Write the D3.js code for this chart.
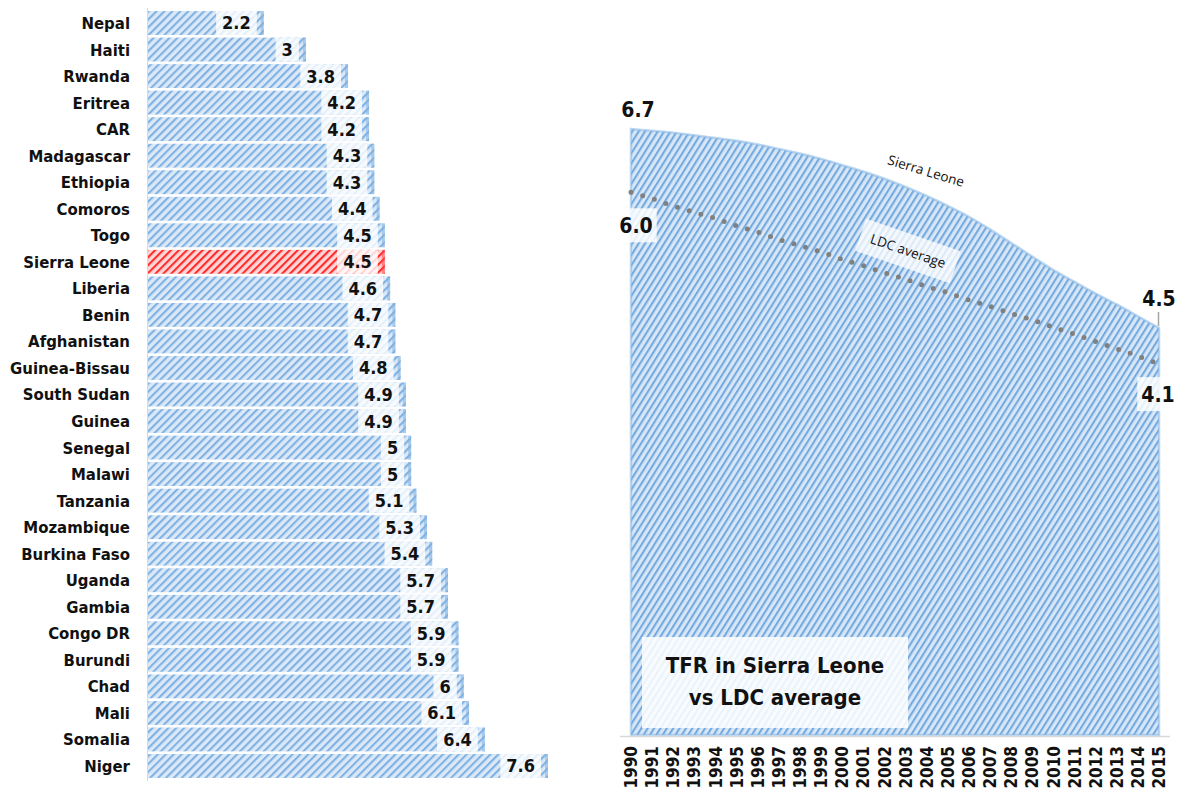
<!DOCTYPE html>
<html>
<head>
<meta charset="utf-8">
<script src="https://cdn.jsdelivr.net/npm/d3@7"></script>
<style>
  html, body { margin: 0; padding: 0; background: #fff; }
  svg { display: block; }
  .cat { font-family: "DejaVu Sans Condensed", "DejaVu Sans", sans-serif; font-weight: bold; font-size: 16.6px; fill: #111; }
  .val { font-family: "DejaVu Sans Condensed", "DejaVu Sans", sans-serif; font-weight: bold; font-size: 18px; fill: #111; }
  .year { font-family: "DejaVu Sans Condensed", "DejaVu Sans", sans-serif; font-weight: bold; font-size: 17px; fill: #111; }
  .big { font-family: "DejaVu Sans Condensed", "DejaVu Sans", sans-serif; font-weight: bold; font-size: 21px; fill: #111; }
  .title { font-family: "DejaVu Sans Condensed", "DejaVu Sans", sans-serif; font-weight: bold; font-size: 22px; fill: #111; }
  .series { font-family: "Open Sans", "Noto Sans", sans-serif; font-size: 13.5px; fill: #111; }
</style>
</head>
<body>
<svg id="chart" width="1179" height="791"></svg>
<script>
// Total fertility rate, least developed countries
const countries = ["Nepal","Haiti","Rwanda","Eritrea","CAR","Madagascar","Ethiopia","Comoros","Togo",
  "Sierra Leone","Liberia","Benin","Afghanistan","Guinea-Bissau","South Sudan","Guinea","Senegal","Malawi",
  "Tanzania","Mozambique","Burkina Faso","Uganda","Gambia","Congo DR","Burundi","Chad","Mali","Somalia","Niger"];
const tfr = [2.2,3,3.8,4.2,4.2,4.3,4.3,4.4,4.5,4.5,4.6,4.7,4.7,4.8,4.9,4.9,5,5,5.1,5.3,5.4,5.7,5.7,5.9,5.9,6,6.1,6.4,7.6];
const highlight = "Sierra Leone";

// TFR trend, 1990-2015
const years = d3.range(1990, 2016).map(String);
const sierraLeone = [6.70,6.68,6.66,6.63,6.60,6.57,6.53,6.48,6.43,6.37,6.30,6.23,6.15,6.06,5.96,5.85,
  5.73,5.59,5.44,5.29,5.14,5.01,4.88,4.76,4.63,4.50];
const ldcAverage = [6.00,5.93,5.85,5.78,5.71,5.63,5.56,5.48,5.41,5.34,5.26,5.19,5.11,5.04,4.96,4.89,
  4.81,4.74,4.66,4.59,4.51,4.43,4.35,4.27,4.19,4.10];
const titleLines = ["TFR in Sierra Leone", "vs LDC average"];

const svg = d3.select("#chart");
const defs = svg.append("defs");

function hatch(id, bg, fg, size, sw, angle) {
  const p = defs.append("pattern").attr("id", id)
    .attr("patternUnits", "userSpaceOnUse")
    .attr("width", size).attr("height", size)
    .attr("patternTransform", `rotate(${angle})`);
  p.append("rect").attr("width", size).attr("height", size).attr("fill", bg);
  p.append("rect").attr("width", sw).attr("height", size).attr("fill", fg);
}
hatch("hatchBlue", "#dae8f7", "#7fb2e3", 5.6, 2.1, 45);
hatch("hatchRed", "#fcd6d6", "#ff2a2a", 5.6, 2.1, 45);
hatch("hatchArea", "#d8e7f7", "#74aade", 5.4, 2.1, 32);

// ---------- Bar chart ----------
const x = d3.scaleLinear().domain([0, 7.6]).range([148, 548]);
const y = d3.scaleBand().domain(countries).range([10, 779]).paddingInner(0.1).paddingOuter(0.04);

const bars = svg.append("g");
bars.append("line").attr("x1", 147.5).attr("x2", 147.5).attr("y1", 8).attr("y2", 781)
  .attr("stroke", "#d9d9d9").attr("stroke-width", 1);

const rows = bars.selectAll("g.row").data(countries.map((c, i) => ({c, v: tfr[i]})))
  .join("g").attr("class", "row");

rows.append("rect")
  .attr("x", x(0)).attr("y", d => y(d.c))
  .attr("width", d => x(d.v) - x(0)).attr("height", y.bandwidth())
  .attr("fill", d => d.c === highlight ? "url(#hatchRed)" : "url(#hatchBlue)");

// darker rim along the bar end
rows.append("rect")
  .attr("x", d => x(d.v) - 3).attr("y", d => y(d.c))
  .attr("width", 3).attr("height", y.bandwidth())
  .attr("fill", d => d.c === highlight ? "#ff4040" : "#7fb0e0").attr("opacity", 0.55);

rows.each(function(d) {
  const g = d3.select(this);
  const t = g.append("text").attr("class", "val")
    .attr("text-anchor", "middle")
    .attr("y", y(d.c) + y.bandwidth() / 2).attr("dy", "0.36em")
    .text(d.v);
  const w = t.node().getComputedTextLength() + 12;
  const cx = x(d.v) - 7 - w / 2;
  t.attr("x", cx);
  g.insert("rect", "text")
    .attr("x", cx - w / 2).attr("y", y(d.c))
    .attr("width", w).attr("height", y.bandwidth())
    .attr("fill", "#fff").attr("opacity", 0.8);
});

bars.append("g").selectAll("text").data(countries).join("text")
  .attr("class", "cat")
  .attr("text-anchor", "end")
  .attr("x", 130)
  .attr("y", d => y(d) + y.bandwidth() / 2).attr("dy", "0.36em")
  .text(d => d);

// ---------- Area chart ----------
const xt = d3.scalePoint().domain(years).range([631, 1159]);
const yt = d3.scaleLinear().domain([0, 6.7]).range([735, 129]);

const g2 = svg.append("g");
const area = d3.area().x((d, i) => xt(years[i])).y0(yt(0)).y1(d => yt(d)).curve(d3.curveMonotoneX);
g2.append("path").datum(sierraLeone).attr("d", area)
  .attr("fill", "url(#hatchArea)")
  .attr("stroke", "#8dbbe6").attr("stroke-width", 2.5).attr("stroke-opacity", 0.6);

// baseline axis
g2.append("line").attr("x1", 620).attr("x2", 1170).attr("y1", 736.5).attr("y2", 736.5)
  .attr("stroke", "#d9d9d9").attr("stroke-width", 1.5);

// LDC average dotted line
const line = d3.line().x((d, i) => xt(years[i])).y(d => yt(d)).curve(d3.curveMonotoneX);
g2.append("path").datum(ldcAverage).attr("d", line)
  .attr("fill", "none").attr("stroke", "#808080").attr("stroke-width", 5)
  .attr("stroke-linecap", "round").attr("stroke-dasharray", "0 12.2");

// year labels
g2.append("g").selectAll("text").data(years).join("text")
  .attr("class", "year")
  .attr("text-anchor", "end")
  .attr("transform", d => `translate(${xt(d)},746) rotate(-90)`)
  .attr("dy", "0.36em")
  .text(d => d);

// end-point labels
const fmt = d3.format(".1f");
const first = years[0], last = years[years.length - 1];
g2.append("text").attr("class", "big").attr("text-anchor", "middle")
  .attr("x", xt(first) + 7).attr("y", yt(sierraLeone[0]) - 12).text(fmt(sierraLeone[0]));

function boxedLabel(cx, cy, txt) {
  const gg = g2.append("g");
  const t = gg.append("text").attr("class", "big").attr("text-anchor", "middle")
    .attr("x", cx).attr("y", cy).attr("dy", "0.36em").text(txt);
  const w = t.node().getComputedTextLength() + 8;
  gg.insert("rect", "text").attr("x", cx - w / 2).attr("y", cy - 17)
    .attr("width", w).attr("height", 34).attr("fill", "#fff").attr("opacity", 0.82);
}
boxedLabel(xt(first) + 5, yt(ldcAverage[0]) + 33, fmt(ldcAverage[0]));
boxedLabel(xt(last) - 1, yt(ldcAverage[ldcAverage.length - 1]) + 30, fmt(ldcAverage[ldcAverage.length - 1]));

g2.append("line").attr("x1", xt(last) - 0.5).attr("x2", xt(last) - 0.5)
  .attr("y1", yt(sierraLeone[sierraLeone.length - 1]) - 16).attr("y2", yt(sierraLeone[sierraLeone.length - 1]) - 2)
  .attr("stroke", "#a6a6a6").attr("stroke-width", 1.5);
g2.append("text").attr("class", "big").attr("text-anchor", "middle")
  .attr("x", xt(last)).attr("y", yt(sierraLeone[sierraLeone.length - 1]) - 22)
  .text(fmt(sierraLeone[sierraLeone.length - 1]));

// series names
g2.append("text").attr("class", "series").attr("text-anchor", "middle")
  .attr("transform", "translate(926,171) rotate(17)").attr("dy", "0.35em").text("Sierra Leone");
const ldcLab = g2.append("g").attr("transform", "translate(908,251) rotate(19)");
ldcLab.append("rect").attr("x", -50).attr("y", -17).attr("width", 100).attr("height", 34)
  .attr("fill", "#fff").attr("opacity", 0.75);
ldcLab.append("text").attr("class", "series").attr("text-anchor", "middle").attr("dy", "0.35em").text("LDC average");

// title box
const tb = g2.append("g");
tb.append("rect").attr("x", 642).attr("y", 637).attr("width", 266).attr("height", 91)
  .attr("fill", "#fff").attr("opacity", 0.85);
tb.selectAll("text").data(titleLines).join("text")
  .attr("class", "title").attr("text-anchor", "middle")
  .attr("x", 775).attr("y", (d, i) => 673 + i * 32).text(d => d);
</script>
</body>
</html>
